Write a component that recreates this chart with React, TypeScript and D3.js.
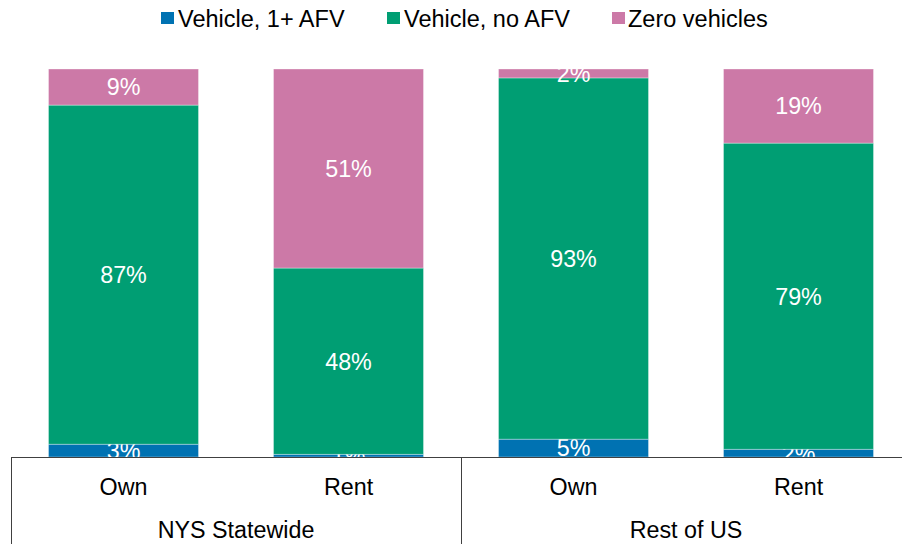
import React from "react";
import * as d3 from "d3";

const groups = ["NYS Statewide", "Rest of US"];
const subgroups = ["Own", "Rent"];
const categories = ["NYS Statewide|Own", "NYS Statewide|Rent", "Rest of US|Own", "Rest of US|Rent"];
const seriesNames = ["Vehicle, 1+ AFV", "Vehicle, no AFV", "Zero vehicles"];
const afv = [3.3, 0.7, 4.6, 2.0];
const noAfv = [87.4, 48.0, 93.1, 78.9];
const zero = [9.3, 51.3, 2.3, 19.1];
const colors = ["#0072B2", "#009E73", "#CC79A7"];

const W = 902;
const H = 544;
const FONT = "'Liberation Sans', Arial, sans-serif";
const FS = 23.3;

export default function App() {
  const plotLeft = 11;
  const catW = 225;
  const plotTop = 69;
  const baseY = 457;
  const rows = categories.map((c, i) => ({ cat: c, a: afv[i], b: noAfv[i], z: zero[i] }));
  const stack = d3.stack<any>().keys(["a", "b", "z"])(rows as any);

  const x = d3
    .scaleBand<string>()
    .domain(categories)
    .range([plotLeft, plotLeft + catW * categories.length])
    .paddingInner(1 / 3)
    .paddingOuter(1 / 6);
  const y = d3.scaleLinear().domain([0, 100]).range([baseY, plotTop]);

  const legendItems = [
    { sq: 161, tx: 178 },
    { sq: 387, tx: 404 },
    { sq: 612, tx: 628 },
  ];

  return (
    <svg
      width={W}
      height={H}
      style={{ position: "absolute", left: 0, top: 0, display: "block" }}
      fontFamily={FONT}
    >
      <defs>
        <clipPath id="plotClip">
          <rect x={0} y={plotTop} width={W} height={baseY - plotTop} />
        </clipPath>
      </defs>
      <rect width={W} height={H} fill="#fff" />
      {/* legend */}
      {seriesNames.map((s, i) => (
        <g key={s}>
          <rect x={legendItems[i].sq} y={12} width={13} height={12} fill={colors[i]} />
          <text x={legendItems[i].tx} y={27} fontSize={23.5} fill="#000">
            {s}
          </text>
        </g>
      ))}
      {/* bars */}
      <g clipPath="url(#plotClip)">
        {stack.map((layer, li) => (
          <g key={li}>
            {layer.map((d: any, j: number) => {
              const cat = categories[j];
              const x0 = x(cat)!;
              const y0 = y(d[1]);
              const y1 = y(d[0]);
              return (
                <g key={cat}>
                  <rect
                    x={x0}
                    y={y0}
                    width={x.bandwidth()}
                    height={y1 - y0}
                    fill={colors[li]}
                    stroke="#ffffff"
                    strokeOpacity={0.45}
                    strokeWidth={0.75}
                  />
                  <text
                    x={x0 + x.bandwidth() / 2}
                    y={(y0 + y1) / 2}
                    dy="0.36em"
                    textAnchor="middle"
                    fontSize={FS}
                    fill="#fff"
                  >
                    {d3.format(".0f")(d[1] - d[0])}%
                  </text>
                </g>
              );
            })}
          </g>
        ))}
      </g>
      {/* axis table */}
      <g stroke="#404040" strokeWidth={1}>
        <line x1={plotLeft} x2={W} y1={baseY + 0.5} y2={baseY + 0.5} />
        {[0, 1, 2].map((k) => (
          <line
            key={k}
            x1={plotLeft + k * catW * 2 + 0.5}
            x2={plotLeft + k * catW * 2 + 0.5}
            y1={baseY}
            y2={H}
          />
        ))}
      </g>
      {categories.map((c, i) => (
        <text
          key={c}
          x={x(c)! + x.bandwidth() / 2}
          y={495}
          textAnchor="middle"
          fontSize={FS}
          fill="#000"
        >
          {subgroups[i % 2]}
        </text>
      ))}
      {groups.map((g, k) => (
        <text
          key={g}
          x={plotLeft + k * catW * 2 + catW}
          y={538}
          textAnchor="middle"
          fontSize={FS}
          fill="#000"
        >
          {g}
        </text>
      ))}
    </svg>
  );
}
